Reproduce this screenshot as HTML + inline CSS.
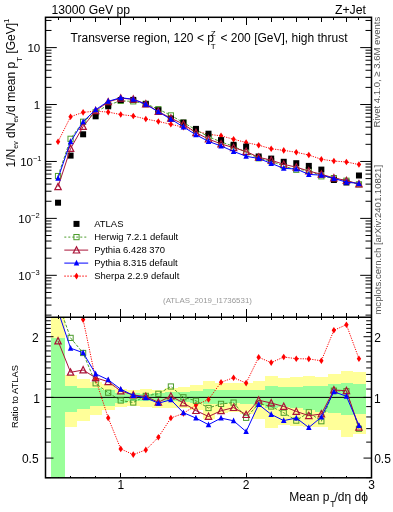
<!DOCTYPE html>
<html><head><meta charset="utf-8"><style>
html,body{margin:0;padding:0;background:#fff;width:393px;height:512px;overflow:hidden}
svg{display:block;will-change:transform}
text{font-family:"Liberation Sans",sans-serif;fill:#000}
</style></head><body>
<svg width="393" height="512" viewBox="0 0 393 512">
<defs><clipPath id="cm"><rect x="45.5" y="17.3" width="326" height="300"/></clipPath><clipPath id="cr"><rect x="45.5" y="317.3" width="326" height="160.1"/></clipPath></defs>
<g clip-path="url(#cr)" shape-rendering="crispEdges"><g fill="#ffff99"><rect x="50.90" y="250" width="13.81" height="350.00"/><rect x="64.71" y="375.2" width="12.54" height="51.90"/><rect x="77.25" y="378.8" width="12.54" height="42.50"/><rect x="89.78" y="381.5" width="12.54" height="33.30"/><rect x="102.32" y="384.2" width="12.54" height="25.60"/><rect x="114.86" y="389.4" width="12.54" height="17.20"/><rect x="127.40" y="390" width="12.54" height="16.00"/><rect x="139.94" y="389.2" width="12.54" height="17.30"/><rect x="152.48" y="389.7" width="12.54" height="17.80"/><rect x="165.02" y="388.1" width="12.54" height="19.40"/><rect x="177.55" y="387.1" width="12.54" height="20.90"/><rect x="190.09" y="385.3" width="12.54" height="24.20"/><rect x="202.63" y="380.8" width="12.54" height="37.90"/><rect x="215.17" y="383.1" width="12.54" height="30.20"/><rect x="227.71" y="383.1" width="12.54" height="28.70"/><rect x="240.25" y="383.1" width="12.54" height="30.90"/><rect x="252.78" y="381" width="12.54" height="37.80"/><rect x="265.32" y="375.8" width="12.54" height="51.80"/><rect x="277.86" y="377.5" width="12.54" height="47.50"/><rect x="290.40" y="376.6" width="12.54" height="49.40"/><rect x="302.94" y="375.5" width="12.54" height="51.20"/><rect x="315.48" y="376.5" width="12.54" height="50.50"/><rect x="328.02" y="373.5" width="12.54" height="56.80"/><rect x="340.55" y="370.9" width="12.54" height="65.60"/><rect x="353.09" y="372.2" width="12.54" height="61.80"/></g><g fill="#99ff99"><rect x="50.90" y="337.9" width="13.81" height="262.10"/><rect x="64.71" y="385.7" width="12.54" height="25.90"/><rect x="77.25" y="387.5" width="12.54" height="21.40"/><rect x="89.78" y="388.3" width="12.54" height="17.70"/><rect x="102.32" y="390.2" width="12.54" height="15.50"/><rect x="114.86" y="393.3" width="12.54" height="9.20"/><rect x="127.40" y="393.3" width="12.54" height="7.90"/><rect x="139.94" y="393.8" width="12.54" height="7.10"/><rect x="152.48" y="392.7" width="12.54" height="8.20"/><rect x="165.02" y="392.2" width="12.54" height="9.20"/><rect x="177.55" y="391.7" width="12.54" height="10.30"/><rect x="190.09" y="390.5" width="12.54" height="12.90"/><rect x="202.63" y="388.6" width="12.54" height="15.60"/><rect x="215.17" y="390.2" width="12.54" height="13.60"/><rect x="227.71" y="390.2" width="12.54" height="13.20"/><rect x="240.25" y="390.2" width="12.54" height="13.80"/><rect x="252.78" y="389.8" width="12.54" height="15.20"/><rect x="265.32" y="386.3" width="12.54" height="21.70"/><rect x="277.86" y="387.2" width="12.54" height="19.80"/><rect x="290.40" y="386.5" width="12.54" height="21.50"/><rect x="302.94" y="385.6" width="12.54" height="24.70"/><rect x="315.48" y="386" width="12.54" height="26.00"/><rect x="328.02" y="383.6" width="12.54" height="28.90"/><rect x="340.55" y="383" width="12.54" height="32.00"/><rect x="353.09" y="384" width="12.54" height="30.30"/></g></g>
<path d="M45.5,397.4H371.5" stroke="#000" stroke-width="1"/>
<g clip-path="url(#cm)"><path d="M58.04,141.70L70.58,116.70L83.12,112.33L95.65,111.16L108.19,112.09L120.73,114.54L133.27,116.05L145.81,119.03L158.35,121.47L170.88,124.32L183.42,127.12L195.96,131.07L208.50,134.29L221.04,135.84L233.58,139.24L246.12,142.56L258.65,145.18L271.19,148.77L283.73,150.39L296.27,152.27L308.81,155.03L321.35,159.26L333.88,161.05L346.42,161.97L358.96,164.57" fill="none" stroke="#ff0000" stroke-width="1" stroke-dasharray="1.2,1.2"/><path d="M58.04,138.40L60.24,141.70L58.04,145.00L55.84,141.70Z" fill="#ff0000"/><path d="M70.58,113.40L72.78,116.70L70.58,120.00L68.38,116.70Z" fill="#ff0000"/><path d="M83.12,109.03L85.32,112.33L83.12,115.63L80.92,112.33Z" fill="#ff0000"/><path d="M95.65,107.86L97.85,111.16L95.65,114.46L93.45,111.16Z" fill="#ff0000"/><path d="M108.19,108.79L110.39,112.09L108.19,115.39L105.99,112.09Z" fill="#ff0000"/><path d="M120.73,111.24L122.93,114.54L120.73,117.84L118.53,114.54Z" fill="#ff0000"/><path d="M133.27,112.75L135.47,116.05L133.27,119.35L131.07,116.05Z" fill="#ff0000"/><path d="M145.81,115.73L148.01,119.03L145.81,122.33L143.61,119.03Z" fill="#ff0000"/><path d="M158.35,118.17L160.55,121.47L158.35,124.77L156.15,121.47Z" fill="#ff0000"/><path d="M170.88,121.02L173.08,124.32L170.88,127.62L168.68,124.32Z" fill="#ff0000"/><path d="M183.42,123.82L185.62,127.12L183.42,130.42L181.22,127.12Z" fill="#ff0000"/><path d="M195.96,127.77L198.16,131.07L195.96,134.37L193.76,131.07Z" fill="#ff0000"/><path d="M208.50,130.99L210.70,134.29L208.50,137.59L206.30,134.29Z" fill="#ff0000"/><path d="M221.04,132.54L223.24,135.84L221.04,139.14L218.84,135.84Z" fill="#ff0000"/><path d="M233.58,135.94L235.78,139.24L233.58,142.54L231.38,139.24Z" fill="#ff0000"/><path d="M246.12,139.26L248.32,142.56L246.12,145.86L243.92,142.56Z" fill="#ff0000"/><path d="M258.65,141.88L260.85,145.18L258.65,148.48L256.45,145.18Z" fill="#ff0000"/><path d="M271.19,145.47L273.39,148.77L271.19,152.07L268.99,148.77Z" fill="#ff0000"/><path d="M283.73,147.09L285.93,150.39L283.73,153.69L281.53,150.39Z" fill="#ff0000"/><path d="M296.27,148.97L298.47,152.27L296.27,155.57L294.07,152.27Z" fill="#ff0000"/><path d="M308.81,151.73L311.01,155.03L308.81,158.33L306.61,155.03Z" fill="#ff0000"/><path d="M321.35,155.96L323.55,159.26L321.35,162.56L319.15,159.26Z" fill="#ff0000"/><path d="M333.88,157.75L336.08,161.05L333.88,164.35L331.68,161.05Z" fill="#ff0000"/><path d="M346.42,158.67L348.62,161.97L346.42,165.27L344.22,161.97Z" fill="#ff0000"/><path d="M358.96,161.27L361.16,164.57L358.96,167.87L356.76,164.57Z" fill="#ff0000"/></g>
<g clip-path="url(#cm)"><path d="M58.04,176.04L70.58,138.80L83.12,121.76L95.65,112.32L108.19,104.97L120.73,100.88L133.27,101.34L145.81,103.78L158.35,109.18L170.88,115.42L183.42,122.57L195.96,129.86L208.50,136.69L221.04,141.94L233.58,146.27L246.12,152.36L258.65,158.25L271.19,161.17L283.73,166.12L296.27,169.75L308.81,170.11L321.35,176.32L333.88,178.11L346.42,180.75L358.96,184.37" fill="none" stroke="#4c9c2c" stroke-width="1" stroke-dasharray="3,1.6"/><rect x="55.44" y="173.44" width="5.2" height="5.2" fill="none" stroke="#4c9c2c" stroke-width="1"/><rect x="67.98" y="136.20" width="5.2" height="5.2" fill="none" stroke="#4c9c2c" stroke-width="1"/><rect x="80.52" y="119.16" width="5.2" height="5.2" fill="none" stroke="#4c9c2c" stroke-width="1"/><rect x="93.05" y="109.72" width="5.2" height="5.2" fill="none" stroke="#4c9c2c" stroke-width="1"/><rect x="105.59" y="102.37" width="5.2" height="5.2" fill="none" stroke="#4c9c2c" stroke-width="1"/><rect x="118.13" y="98.28" width="5.2" height="5.2" fill="none" stroke="#4c9c2c" stroke-width="1"/><rect x="130.67" y="98.74" width="5.2" height="5.2" fill="none" stroke="#4c9c2c" stroke-width="1"/><rect x="143.21" y="101.18" width="5.2" height="5.2" fill="none" stroke="#4c9c2c" stroke-width="1"/><rect x="155.75" y="106.58" width="5.2" height="5.2" fill="none" stroke="#4c9c2c" stroke-width="1"/><rect x="168.28" y="112.82" width="5.2" height="5.2" fill="none" stroke="#4c9c2c" stroke-width="1"/><rect x="180.82" y="119.97" width="5.2" height="5.2" fill="none" stroke="#4c9c2c" stroke-width="1"/><rect x="193.36" y="127.26" width="5.2" height="5.2" fill="none" stroke="#4c9c2c" stroke-width="1"/><rect x="205.90" y="134.09" width="5.2" height="5.2" fill="none" stroke="#4c9c2c" stroke-width="1"/><rect x="218.44" y="139.34" width="5.2" height="5.2" fill="none" stroke="#4c9c2c" stroke-width="1"/><rect x="230.98" y="143.67" width="5.2" height="5.2" fill="none" stroke="#4c9c2c" stroke-width="1"/><rect x="243.52" y="149.76" width="5.2" height="5.2" fill="none" stroke="#4c9c2c" stroke-width="1"/><rect x="256.05" y="155.65" width="5.2" height="5.2" fill="none" stroke="#4c9c2c" stroke-width="1"/><rect x="268.59" y="158.57" width="5.2" height="5.2" fill="none" stroke="#4c9c2c" stroke-width="1"/><rect x="281.13" y="163.52" width="5.2" height="5.2" fill="none" stroke="#4c9c2c" stroke-width="1"/><rect x="293.67" y="167.15" width="5.2" height="5.2" fill="none" stroke="#4c9c2c" stroke-width="1"/><rect x="306.21" y="167.51" width="5.2" height="5.2" fill="none" stroke="#4c9c2c" stroke-width="1"/><rect x="318.75" y="173.72" width="5.2" height="5.2" fill="none" stroke="#4c9c2c" stroke-width="1"/><rect x="331.28" y="175.51" width="5.2" height="5.2" fill="none" stroke="#4c9c2c" stroke-width="1"/><rect x="343.82" y="178.15" width="5.2" height="5.2" fill="none" stroke="#4c9c2c" stroke-width="1"/><rect x="356.36" y="181.77" width="5.2" height="5.2" fill="none" stroke="#4c9c2c" stroke-width="1"/></g>
<g clip-path="url(#cm)"><rect x="55.04" y="199.70" width="6" height="6" fill="#000"/><rect x="67.58" y="152.60" width="6" height="6" fill="#000"/><rect x="80.12" y="131.30" width="6" height="6" fill="#000"/><rect x="92.65" y="113.30" width="6" height="6" fill="#000"/><rect x="105.19" y="103.30" width="6" height="6" fill="#000"/><rect x="117.73" y="97.00" width="6" height="6" fill="#000"/><rect x="130.27" y="96.90" width="6" height="6" fill="#000"/><rect x="142.81" y="101.20" width="6" height="6" fill="#000"/><rect x="155.35" y="107.20" width="6" height="6" fill="#000"/><rect x="167.88" y="115.50" width="6" height="6" fill="#000"/><rect x="180.42" y="119.60" width="6" height="6" fill="#000"/><rect x="192.96" y="125.90" width="6" height="6" fill="#000"/><rect x="205.50" y="130.70" width="6" height="6" fill="#000"/><rect x="218.04" y="137.10" width="6" height="6" fill="#000"/><rect x="230.58" y="141.80" width="6" height="6" fill="#000"/><rect x="243.12" y="143.60" width="6" height="6" fill="#000"/><rect x="255.65" y="153.50" width="6" height="6" fill="#000"/><rect x="268.19" y="155.60" width="6" height="6" fill="#000"/><rect x="280.73" y="158.80" width="6" height="6" fill="#000"/><rect x="293.27" y="160.20" width="6" height="6" fill="#000"/><rect x="305.81" y="162.90" width="6" height="6" fill="#000"/><rect x="318.35" y="166.60" width="6" height="6" fill="#000"/><rect x="330.88" y="177.00" width="6" height="6" fill="#000"/><rect x="343.42" y="179.50" width="6" height="6" fill="#000"/><rect x="355.96" y="172.50" width="6" height="6" fill="#000"/></g>
<g clip-path="url(#cm)"><path d="M58.04,186.77L70.58,148.51L83.12,126.56L95.65,110.77L108.19,101.87L120.73,98.19L133.27,99.22L145.81,103.95L158.35,111.58L170.88,118.13L183.42,124.15L195.96,132.63L208.50,139.09L221.04,143.88L233.58,147.68L246.12,151.46L258.65,157.29L271.19,160.18L283.73,164.37L296.27,167.15L308.81,171.07L321.35,174.29L333.88,177.91L346.42,180.61L358.96,183.94" fill="none" stroke="#aa1438" stroke-width="1"/><path d="M58.04,183.37L61.24,189.67H54.84Z" fill="none" stroke="#aa1438" stroke-width="1.2" stroke-linejoin="miter"/><path d="M70.58,145.11L73.78,151.41H67.38Z" fill="none" stroke="#aa1438" stroke-width="1.2" stroke-linejoin="miter"/><path d="M83.12,123.16L86.32,129.46H79.92Z" fill="none" stroke="#aa1438" stroke-width="1.2" stroke-linejoin="miter"/><path d="M95.65,107.37L98.85,113.67H92.45Z" fill="none" stroke="#aa1438" stroke-width="1.2" stroke-linejoin="miter"/><path d="M108.19,98.47L111.39,104.77H104.99Z" fill="none" stroke="#aa1438" stroke-width="1.2" stroke-linejoin="miter"/><path d="M120.73,94.79L123.93,101.09H117.53Z" fill="none" stroke="#aa1438" stroke-width="1.2" stroke-linejoin="miter"/><path d="M133.27,95.82L136.47,102.12H130.07Z" fill="none" stroke="#aa1438" stroke-width="1.2" stroke-linejoin="miter"/><path d="M145.81,100.55L149.01,106.85H142.61Z" fill="none" stroke="#aa1438" stroke-width="1.2" stroke-linejoin="miter"/><path d="M158.35,108.18L161.55,114.48H155.15Z" fill="none" stroke="#aa1438" stroke-width="1.2" stroke-linejoin="miter"/><path d="M170.88,114.73L174.08,121.03H167.68Z" fill="none" stroke="#aa1438" stroke-width="1.2" stroke-linejoin="miter"/><path d="M183.42,120.75L186.62,127.05H180.22Z" fill="none" stroke="#aa1438" stroke-width="1.2" stroke-linejoin="miter"/><path d="M195.96,129.23L199.16,135.53H192.76Z" fill="none" stroke="#aa1438" stroke-width="1.2" stroke-linejoin="miter"/><path d="M208.50,135.69L211.70,141.99H205.30Z" fill="none" stroke="#aa1438" stroke-width="1.2" stroke-linejoin="miter"/><path d="M221.04,140.48L224.24,146.78H217.84Z" fill="none" stroke="#aa1438" stroke-width="1.2" stroke-linejoin="miter"/><path d="M233.58,144.28L236.78,150.58H230.38Z" fill="none" stroke="#aa1438" stroke-width="1.2" stroke-linejoin="miter"/><path d="M246.12,148.06L249.32,154.36H242.92Z" fill="none" stroke="#aa1438" stroke-width="1.2" stroke-linejoin="miter"/><path d="M258.65,153.89L261.85,160.19H255.45Z" fill="none" stroke="#aa1438" stroke-width="1.2" stroke-linejoin="miter"/><path d="M271.19,156.78L274.39,163.08H267.99Z" fill="none" stroke="#aa1438" stroke-width="1.2" stroke-linejoin="miter"/><path d="M283.73,160.97L286.93,167.27H280.53Z" fill="none" stroke="#aa1438" stroke-width="1.2" stroke-linejoin="miter"/><path d="M296.27,163.75L299.47,170.05H293.07Z" fill="none" stroke="#aa1438" stroke-width="1.2" stroke-linejoin="miter"/><path d="M308.81,167.67L312.01,173.97H305.61Z" fill="none" stroke="#aa1438" stroke-width="1.2" stroke-linejoin="miter"/><path d="M321.35,170.89L324.55,177.19H318.15Z" fill="none" stroke="#aa1438" stroke-width="1.2" stroke-linejoin="miter"/><path d="M333.88,174.51L337.08,180.81H330.68Z" fill="none" stroke="#aa1438" stroke-width="1.2" stroke-linejoin="miter"/><path d="M346.42,177.21L349.62,183.51H343.22Z" fill="none" stroke="#aa1438" stroke-width="1.2" stroke-linejoin="miter"/><path d="M358.96,180.54L362.16,186.84H355.76Z" fill="none" stroke="#aa1438" stroke-width="1.2" stroke-linejoin="miter"/></g>
<g clip-path="url(#cm)"><path d="M58.04,178.30L70.58,141.71L83.12,121.68L95.65,109.66L108.19,101.33L120.73,97.68L133.27,99.34L145.81,104.31L158.35,111.84L170.88,119.18L183.42,126.92L195.96,134.75L208.50,141.41L221.04,145.95L233.58,151.41L246.12,156.26L258.65,158.50L271.19,163.40L283.73,168.35L296.27,169.02L308.81,174.40L321.35,175.16L333.88,178.39L346.42,182.19L358.96,183.44" fill="none" stroke="#0000ff" stroke-width="1"/><path d="M58.04,175.00L60.79,180.80H55.29Z" fill="#0000ff"/><path d="M70.58,138.41L73.33,144.21H67.83Z" fill="#0000ff"/><path d="M83.12,118.38L85.87,124.18H80.37Z" fill="#0000ff"/><path d="M95.65,106.36L98.40,112.16H92.90Z" fill="#0000ff"/><path d="M108.19,98.03L110.94,103.83H105.44Z" fill="#0000ff"/><path d="M120.73,94.38L123.48,100.18H117.98Z" fill="#0000ff"/><path d="M133.27,96.04L136.02,101.84H130.52Z" fill="#0000ff"/><path d="M145.81,101.01L148.56,106.81H143.06Z" fill="#0000ff"/><path d="M158.35,108.54L161.10,114.34H155.60Z" fill="#0000ff"/><path d="M170.88,115.88L173.63,121.68H168.13Z" fill="#0000ff"/><path d="M183.42,123.62L186.17,129.42H180.67Z" fill="#0000ff"/><path d="M195.96,131.45L198.71,137.25H193.21Z" fill="#0000ff"/><path d="M208.50,138.11L211.25,143.91H205.75Z" fill="#0000ff"/><path d="M221.04,142.65L223.79,148.45H218.29Z" fill="#0000ff"/><path d="M233.58,148.11L236.33,153.91H230.83Z" fill="#0000ff"/><path d="M246.12,152.96L248.87,158.76H243.37Z" fill="#0000ff"/><path d="M258.65,155.20L261.40,161.00H255.90Z" fill="#0000ff"/><path d="M271.19,160.10L273.94,165.90H268.44Z" fill="#0000ff"/><path d="M283.73,165.05L286.48,170.85H280.98Z" fill="#0000ff"/><path d="M296.27,165.72L299.02,171.52H293.52Z" fill="#0000ff"/><path d="M308.81,171.10L311.56,176.90H306.06Z" fill="#0000ff"/><path d="M321.35,171.86L324.10,177.66H318.60Z" fill="#0000ff"/><path d="M333.88,175.09L336.63,180.89H331.13Z" fill="#0000ff"/><path d="M346.42,178.89L349.17,184.69H343.67Z" fill="#0000ff"/><path d="M358.96,180.14L361.71,185.94H356.21Z" fill="#0000ff"/></g>
<g clip-path="url(#cr)"><path d="M58.04,181.65L70.58,259.82L83.12,319.60L95.65,379.20L108.19,417.90L120.73,448.90L133.27,454.60L145.81,449.90L158.35,437.30L170.88,418.00L183.42,413.40L195.96,405.10L208.50,399.50L221.04,382.30L233.58,377.70L246.12,383.10L258.65,357.30L271.19,362.60L283.73,357.00L296.27,358.70L308.81,358.90L321.35,360.80L333.88,330.30L346.42,324.70L358.96,358.70" fill="none" stroke="#ff0000" stroke-width="1" stroke-dasharray="1.2,1.2"/><path d="M58.04,178.35L60.24,181.65L58.04,184.95L55.84,181.65Z" fill="#ff0000"/><path d="M70.58,256.52L72.78,259.82L70.58,263.12L68.38,259.82Z" fill="#ff0000"/><path d="M83.12,316.30L85.32,319.60L83.12,322.90L80.92,319.60Z" fill="#ff0000"/><path d="M95.65,375.90L97.85,379.20L95.65,382.50L93.45,379.20Z" fill="#ff0000"/><path d="M108.19,414.60L110.39,417.90L108.19,421.20L105.99,417.90Z" fill="#ff0000"/><path d="M120.73,445.60L122.93,448.90L120.73,452.20L118.53,448.90Z" fill="#ff0000"/><path d="M133.27,451.30L135.47,454.60L133.27,457.90L131.07,454.60Z" fill="#ff0000"/><path d="M145.81,446.60L148.01,449.90L145.81,453.20L143.61,449.90Z" fill="#ff0000"/><path d="M158.35,434.00L160.55,437.30L158.35,440.60L156.15,437.30Z" fill="#ff0000"/><path d="M170.88,414.70L173.08,418.00L170.88,421.30L168.68,418.00Z" fill="#ff0000"/><path d="M183.42,410.10L185.62,413.40L183.42,416.70L181.22,413.40Z" fill="#ff0000"/><path d="M195.96,401.80L198.16,405.10L195.96,408.40L193.76,405.10Z" fill="#ff0000"/><path d="M208.50,396.20L210.70,399.50L208.50,402.80L206.30,399.50Z" fill="#ff0000"/><path d="M221.04,379.00L223.24,382.30L221.04,385.60L218.84,382.30Z" fill="#ff0000"/><path d="M233.58,374.40L235.78,377.70L233.58,381.00L231.38,377.70Z" fill="#ff0000"/><path d="M246.12,379.80L248.32,383.10L246.12,386.40L243.92,383.10Z" fill="#ff0000"/><path d="M258.65,354.00L260.85,357.30L258.65,360.60L256.45,357.30Z" fill="#ff0000"/><path d="M271.19,359.30L273.39,362.60L271.19,365.90L268.99,362.60Z" fill="#ff0000"/><path d="M283.73,353.70L285.93,357.00L283.73,360.30L281.53,357.00Z" fill="#ff0000"/><path d="M296.27,355.40L298.47,358.70L296.27,362.00L294.07,358.70Z" fill="#ff0000"/><path d="M308.81,355.60L311.01,358.90L308.81,362.20L306.61,358.90Z" fill="#ff0000"/><path d="M321.35,357.50L323.55,360.80L321.35,364.10L319.15,360.80Z" fill="#ff0000"/><path d="M333.88,327.00L336.08,330.30L333.88,333.60L331.68,330.30Z" fill="#ff0000"/><path d="M346.42,321.40L348.62,324.70L346.42,328.00L344.22,324.70Z" fill="#ff0000"/><path d="M358.96,355.40L361.16,358.70L358.96,362.00L356.76,358.70Z" fill="#ff0000"/></g>
<g clip-path="url(#cr)"><path d="M58.04,303.00L70.58,337.90L83.12,353.00L95.65,383.30L108.19,392.70L120.73,400.50L133.27,402.50L145.81,395.90L158.35,393.80L170.88,386.50L183.42,397.30L195.96,400.80L208.50,408.00L221.04,403.90L233.58,402.60L246.12,417.80L258.65,403.60L271.19,406.50L283.73,412.70L296.27,420.60L308.81,412.30L321.35,421.20L333.88,390.70L346.42,391.20L358.96,428.80" fill="none" stroke="#4c9c2c" stroke-width="1" stroke-dasharray="3,1.6"/><rect x="55.44" y="300.40" width="5.2" height="5.2" fill="none" stroke="#4c9c2c" stroke-width="1"/><rect x="67.98" y="335.30" width="5.2" height="5.2" fill="none" stroke="#4c9c2c" stroke-width="1"/><rect x="80.52" y="350.40" width="5.2" height="5.2" fill="none" stroke="#4c9c2c" stroke-width="1"/><rect x="93.05" y="380.70" width="5.2" height="5.2" fill="none" stroke="#4c9c2c" stroke-width="1"/><rect x="105.59" y="390.10" width="5.2" height="5.2" fill="none" stroke="#4c9c2c" stroke-width="1"/><rect x="118.13" y="397.90" width="5.2" height="5.2" fill="none" stroke="#4c9c2c" stroke-width="1"/><rect x="130.67" y="399.90" width="5.2" height="5.2" fill="none" stroke="#4c9c2c" stroke-width="1"/><rect x="143.21" y="393.30" width="5.2" height="5.2" fill="none" stroke="#4c9c2c" stroke-width="1"/><rect x="155.75" y="391.20" width="5.2" height="5.2" fill="none" stroke="#4c9c2c" stroke-width="1"/><rect x="168.28" y="383.90" width="5.2" height="5.2" fill="none" stroke="#4c9c2c" stroke-width="1"/><rect x="180.82" y="394.70" width="5.2" height="5.2" fill="none" stroke="#4c9c2c" stroke-width="1"/><rect x="193.36" y="398.20" width="5.2" height="5.2" fill="none" stroke="#4c9c2c" stroke-width="1"/><rect x="205.90" y="405.40" width="5.2" height="5.2" fill="none" stroke="#4c9c2c" stroke-width="1"/><rect x="218.44" y="401.30" width="5.2" height="5.2" fill="none" stroke="#4c9c2c" stroke-width="1"/><rect x="230.98" y="400.00" width="5.2" height="5.2" fill="none" stroke="#4c9c2c" stroke-width="1"/><rect x="243.52" y="415.20" width="5.2" height="5.2" fill="none" stroke="#4c9c2c" stroke-width="1"/><rect x="256.05" y="401.00" width="5.2" height="5.2" fill="none" stroke="#4c9c2c" stroke-width="1"/><rect x="268.59" y="403.90" width="5.2" height="5.2" fill="none" stroke="#4c9c2c" stroke-width="1"/><rect x="281.13" y="410.10" width="5.2" height="5.2" fill="none" stroke="#4c9c2c" stroke-width="1"/><rect x="293.67" y="418.00" width="5.2" height="5.2" fill="none" stroke="#4c9c2c" stroke-width="1"/><rect x="306.21" y="409.70" width="5.2" height="5.2" fill="none" stroke="#4c9c2c" stroke-width="1"/><rect x="318.75" y="418.60" width="5.2" height="5.2" fill="none" stroke="#4c9c2c" stroke-width="1"/><rect x="331.28" y="388.10" width="5.2" height="5.2" fill="none" stroke="#4c9c2c" stroke-width="1"/><rect x="343.82" y="388.60" width="5.2" height="5.2" fill="none" stroke="#4c9c2c" stroke-width="1"/><rect x="356.36" y="426.20" width="5.2" height="5.2" fill="none" stroke="#4c9c2c" stroke-width="1"/></g>
<g clip-path="url(#cr)"><path d="M58.04,341.00L70.58,372.30L83.12,370.00L95.65,377.80L108.19,381.70L120.73,391.00L133.27,395.00L145.81,396.50L158.35,402.30L170.88,396.10L183.42,402.90L195.96,410.60L208.50,416.50L221.04,410.80L233.58,407.60L246.12,414.60L258.65,400.20L271.19,403.00L283.73,406.50L296.27,411.40L308.81,415.70L321.35,414.00L333.88,390.00L346.42,390.70L358.96,427.30" fill="none" stroke="#aa1438" stroke-width="1"/><path d="M58.04,337.60L61.24,343.90H54.84Z" fill="none" stroke="#aa1438" stroke-width="1.2" stroke-linejoin="miter"/><path d="M70.58,368.90L73.78,375.20H67.38Z" fill="none" stroke="#aa1438" stroke-width="1.2" stroke-linejoin="miter"/><path d="M83.12,366.60L86.32,372.90H79.92Z" fill="none" stroke="#aa1438" stroke-width="1.2" stroke-linejoin="miter"/><path d="M95.65,374.40L98.85,380.70H92.45Z" fill="none" stroke="#aa1438" stroke-width="1.2" stroke-linejoin="miter"/><path d="M108.19,378.30L111.39,384.60H104.99Z" fill="none" stroke="#aa1438" stroke-width="1.2" stroke-linejoin="miter"/><path d="M120.73,387.60L123.93,393.90H117.53Z" fill="none" stroke="#aa1438" stroke-width="1.2" stroke-linejoin="miter"/><path d="M133.27,391.60L136.47,397.90H130.07Z" fill="none" stroke="#aa1438" stroke-width="1.2" stroke-linejoin="miter"/><path d="M145.81,393.10L149.01,399.40H142.61Z" fill="none" stroke="#aa1438" stroke-width="1.2" stroke-linejoin="miter"/><path d="M158.35,398.90L161.55,405.20H155.15Z" fill="none" stroke="#aa1438" stroke-width="1.2" stroke-linejoin="miter"/><path d="M170.88,392.70L174.08,399.00H167.68Z" fill="none" stroke="#aa1438" stroke-width="1.2" stroke-linejoin="miter"/><path d="M183.42,399.50L186.62,405.80H180.22Z" fill="none" stroke="#aa1438" stroke-width="1.2" stroke-linejoin="miter"/><path d="M195.96,407.20L199.16,413.50H192.76Z" fill="none" stroke="#aa1438" stroke-width="1.2" stroke-linejoin="miter"/><path d="M208.50,413.10L211.70,419.40H205.30Z" fill="none" stroke="#aa1438" stroke-width="1.2" stroke-linejoin="miter"/><path d="M221.04,407.40L224.24,413.70H217.84Z" fill="none" stroke="#aa1438" stroke-width="1.2" stroke-linejoin="miter"/><path d="M233.58,404.20L236.78,410.50H230.38Z" fill="none" stroke="#aa1438" stroke-width="1.2" stroke-linejoin="miter"/><path d="M246.12,411.20L249.32,417.50H242.92Z" fill="none" stroke="#aa1438" stroke-width="1.2" stroke-linejoin="miter"/><path d="M258.65,396.80L261.85,403.10H255.45Z" fill="none" stroke="#aa1438" stroke-width="1.2" stroke-linejoin="miter"/><path d="M271.19,399.60L274.39,405.90H267.99Z" fill="none" stroke="#aa1438" stroke-width="1.2" stroke-linejoin="miter"/><path d="M283.73,403.10L286.93,409.40H280.53Z" fill="none" stroke="#aa1438" stroke-width="1.2" stroke-linejoin="miter"/><path d="M296.27,408.00L299.47,414.30H293.07Z" fill="none" stroke="#aa1438" stroke-width="1.2" stroke-linejoin="miter"/><path d="M308.81,412.30L312.01,418.60H305.61Z" fill="none" stroke="#aa1438" stroke-width="1.2" stroke-linejoin="miter"/><path d="M321.35,410.60L324.55,416.90H318.15Z" fill="none" stroke="#aa1438" stroke-width="1.2" stroke-linejoin="miter"/><path d="M333.88,386.60L337.08,392.90H330.68Z" fill="none" stroke="#aa1438" stroke-width="1.2" stroke-linejoin="miter"/><path d="M346.42,387.30L349.62,393.60H343.22Z" fill="none" stroke="#aa1438" stroke-width="1.2" stroke-linejoin="miter"/><path d="M358.96,423.90L362.16,430.20H355.76Z" fill="none" stroke="#aa1438" stroke-width="1.2" stroke-linejoin="miter"/></g>
<g clip-path="url(#cr)"><path d="M58.04,311.00L70.58,348.20L83.12,352.70L95.65,373.90L108.19,379.80L120.73,389.20L133.27,395.40L145.81,397.80L158.35,403.20L170.88,399.80L183.42,412.70L195.96,418.10L208.50,424.70L221.04,418.10L233.58,420.80L246.12,431.60L258.65,404.50L271.19,414.40L283.73,420.60L296.27,418.00L308.81,427.50L321.35,417.10L333.88,391.70L346.42,396.30L358.96,425.50" fill="none" stroke="#0000ff" stroke-width="1"/><path d="M58.04,307.70L60.79,313.50H55.29Z" fill="#0000ff"/><path d="M70.58,344.90L73.33,350.70H67.83Z" fill="#0000ff"/><path d="M83.12,349.40L85.87,355.20H80.37Z" fill="#0000ff"/><path d="M95.65,370.60L98.40,376.40H92.90Z" fill="#0000ff"/><path d="M108.19,376.50L110.94,382.30H105.44Z" fill="#0000ff"/><path d="M120.73,385.90L123.48,391.70H117.98Z" fill="#0000ff"/><path d="M133.27,392.10L136.02,397.90H130.52Z" fill="#0000ff"/><path d="M145.81,394.50L148.56,400.30H143.06Z" fill="#0000ff"/><path d="M158.35,399.90L161.10,405.70H155.60Z" fill="#0000ff"/><path d="M170.88,396.50L173.63,402.30H168.13Z" fill="#0000ff"/><path d="M183.42,409.40L186.17,415.20H180.67Z" fill="#0000ff"/><path d="M195.96,414.80L198.71,420.60H193.21Z" fill="#0000ff"/><path d="M208.50,421.40L211.25,427.20H205.75Z" fill="#0000ff"/><path d="M221.04,414.80L223.79,420.60H218.29Z" fill="#0000ff"/><path d="M233.58,417.50L236.33,423.30H230.83Z" fill="#0000ff"/><path d="M246.12,428.30L248.87,434.10H243.37Z" fill="#0000ff"/><path d="M258.65,401.20L261.40,407.00H255.90Z" fill="#0000ff"/><path d="M271.19,411.10L273.94,416.90H268.44Z" fill="#0000ff"/><path d="M283.73,417.30L286.48,423.10H280.98Z" fill="#0000ff"/><path d="M296.27,414.70L299.02,420.50H293.52Z" fill="#0000ff"/><path d="M308.81,424.20L311.56,430.00H306.06Z" fill="#0000ff"/><path d="M321.35,413.80L324.10,419.60H318.60Z" fill="#0000ff"/><path d="M333.88,388.40L336.63,394.20H331.13Z" fill="#0000ff"/><path d="M346.42,393.00L349.17,398.80H343.67Z" fill="#0000ff"/><path d="M358.96,422.20L361.71,428.00H356.21Z" fill="#0000ff"/></g>
<rect x="73.5" y="220.9" width="6" height="6" fill="#000"/>
<path d="M64.3,237.1H88.2" stroke="#4c9c2c" stroke-dasharray="2,2"/><rect x="73.90" y="234.50" width="5.2" height="5.2" fill="none" stroke="#4c9c2c" stroke-width="1"/>
<path d="M64.3,250.1H88.2" stroke="#aa1438"/><path d="M76.50,246.70L79.70,253.00H73.30Z" fill="none" stroke="#aa1438" stroke-width="1.2" stroke-linejoin="miter"/>
<path d="M64.3,263.1H88.2" stroke="#0000ff"/><path d="M76.50,259.80L79.25,265.60H73.75Z" fill="#0000ff"/>
<path d="M64.3,276.1H88.2" stroke="#ff0000" stroke-dasharray="1.5,1.5"/><path d="M76.50,272.80L78.70,276.10L76.50,279.40L74.30,276.10Z" fill="#ff0000"/>
<path d="M58.04,17.3v2.2M58.04,317.3v-2.2M58.04,317.3v1.3M58.04,477.8v-1.3M70.58,17.3v4.2M70.58,317.3v-4.2M70.58,317.3v2.3M70.58,477.8v-2.3M83.12,17.3v2.2M83.12,317.3v-2.2M83.12,317.3v1.3M83.12,477.8v-1.3M95.65,17.3v4.2M95.65,317.3v-4.2M95.65,317.3v2.3M95.65,477.8v-2.3M108.19,17.3v2.2M108.19,317.3v-2.2M108.19,317.3v1.3M108.19,477.8v-1.3M120.73,17.3v8.0M120.73,317.3v-8.0M120.73,317.3v4.8M120.73,477.8v-4.8M133.27,17.3v2.2M133.27,317.3v-2.2M133.27,317.3v1.3M133.27,477.8v-1.3M145.81,17.3v4.2M145.81,317.3v-4.2M145.81,317.3v2.3M145.81,477.8v-2.3M158.35,17.3v2.2M158.35,317.3v-2.2M158.35,317.3v1.3M158.35,477.8v-1.3M170.88,17.3v4.2M170.88,317.3v-4.2M170.88,317.3v2.3M170.88,477.8v-2.3M183.42,17.3v2.2M183.42,317.3v-2.2M183.42,317.3v1.3M183.42,477.8v-1.3M195.96,17.3v4.2M195.96,317.3v-4.2M195.96,317.3v2.3M195.96,477.8v-2.3M208.50,17.3v2.2M208.50,317.3v-2.2M208.50,317.3v1.3M208.50,477.8v-1.3M221.04,17.3v4.2M221.04,317.3v-4.2M221.04,317.3v2.3M221.04,477.8v-2.3M233.58,17.3v2.2M233.58,317.3v-2.2M233.58,317.3v1.3M233.58,477.8v-1.3M246.12,17.3v8.0M246.12,317.3v-8.0M246.12,317.3v4.8M246.12,477.8v-4.8M258.65,17.3v2.2M258.65,317.3v-2.2M258.65,317.3v1.3M258.65,477.8v-1.3M271.19,17.3v4.2M271.19,317.3v-4.2M271.19,317.3v2.3M271.19,477.8v-2.3M283.73,17.3v2.2M283.73,317.3v-2.2M283.73,317.3v1.3M283.73,477.8v-1.3M296.27,17.3v4.2M296.27,317.3v-4.2M296.27,317.3v2.3M296.27,477.8v-2.3M308.81,17.3v2.2M308.81,317.3v-2.2M308.81,317.3v1.3M308.81,477.8v-1.3M321.35,17.3v4.2M321.35,317.3v-4.2M321.35,317.3v2.3M321.35,477.8v-2.3M333.88,17.3v2.2M333.88,317.3v-2.2M333.88,317.3v1.3M333.88,477.8v-1.3M346.42,17.3v4.2M346.42,317.3v-4.2M346.42,317.3v2.3M346.42,477.8v-2.3M358.96,17.3v2.2M358.96,317.3v-2.2M358.96,317.3v1.3M358.96,477.8v-1.3" stroke="#000" stroke-width="1" fill="none" shape-rendering="crispEdges"/>
<path d="M45.5,315.11h6.0M371.5,315.11h-6.0M45.5,305.09h6.0M371.5,305.09h-6.0M45.5,297.97h6.0M371.5,297.97h-6.0M45.5,292.46h6.0M371.5,292.46h-6.0M45.5,287.95h6.0M371.5,287.95h-6.0M45.5,284.14h6.0M371.5,284.14h-6.0M45.5,280.84h6.0M371.5,280.84h-6.0M45.5,277.92h6.0M371.5,277.92h-6.0M45.5,275.32h11.3M371.5,275.32h-11.3M45.5,258.18h6.0M371.5,258.18h-6.0M45.5,248.16h6.0M371.5,248.16h-6.0M45.5,241.04h6.0M371.5,241.04h-6.0M45.5,235.53h6.0M371.5,235.53h-6.0M45.5,231.02h6.0M371.5,231.02h-6.0M45.5,227.21h6.0M371.5,227.21h-6.0M45.5,223.91h6.0M371.5,223.91h-6.0M45.5,220.99h6.0M371.5,220.99h-6.0M45.5,218.39h11.3M371.5,218.39h-11.3M45.5,201.25h6.0M371.5,201.25h-6.0M45.5,191.23h6.0M371.5,191.23h-6.0M45.5,184.11h6.0M371.5,184.11h-6.0M45.5,178.60h6.0M371.5,178.60h-6.0M45.5,174.09h6.0M371.5,174.09h-6.0M45.5,170.28h6.0M371.5,170.28h-6.0M45.5,166.98h6.0M371.5,166.98h-6.0M45.5,164.06h6.0M371.5,164.06h-6.0M45.5,161.46h11.3M371.5,161.46h-11.3M45.5,144.32h6.0M371.5,144.32h-6.0M45.5,134.30h6.0M371.5,134.30h-6.0M45.5,127.18h6.0M371.5,127.18h-6.0M45.5,121.67h6.0M371.5,121.67h-6.0M45.5,117.16h6.0M371.5,117.16h-6.0M45.5,113.35h6.0M371.5,113.35h-6.0M45.5,110.05h6.0M371.5,110.05h-6.0M45.5,107.13h6.0M371.5,107.13h-6.0M45.5,104.53h11.3M371.5,104.53h-11.3M45.5,87.39h6.0M371.5,87.39h-6.0M45.5,77.37h6.0M371.5,77.37h-6.0M45.5,70.25h6.0M371.5,70.25h-6.0M45.5,64.74h6.0M371.5,64.74h-6.0M45.5,60.23h6.0M371.5,60.23h-6.0M45.5,56.42h6.0M371.5,56.42h-6.0M45.5,53.12h6.0M371.5,53.12h-6.0M45.5,50.20h6.0M371.5,50.20h-6.0M45.5,47.60h11.3M371.5,47.60h-11.3M45.5,30.46h6.0M371.5,30.46h-6.0M45.5,20.44h6.0M371.5,20.44h-6.0M45.5,477.62h5.3M371.5,477.62h-5.3M45.5,458.09h8M371.5,458.09h-8M45.5,442.12h5.3M371.5,442.12h-5.3M45.5,428.63h5.3M371.5,428.63h-5.3M45.5,416.94h5.3M371.5,416.94h-5.3M45.5,406.62h5.3M371.5,406.62h-5.3M45.5,397.40h8M371.5,397.40h-8M45.5,389.06h5.3M371.5,389.06h-5.3M45.5,381.44h5.3M371.5,381.44h-5.3M45.5,374.43h5.3M371.5,374.43h-5.3M45.5,367.94h5.3M371.5,367.94h-5.3M45.5,361.90h5.3M371.5,361.90h-5.3M45.5,356.25h5.3M371.5,356.25h-5.3M45.5,350.94h5.3M371.5,350.94h-5.3M45.5,345.94h5.3M371.5,345.94h-5.3M45.5,341.20h5.3M371.5,341.20h-5.3M45.5,336.71h8M371.5,336.71h-8M45.5,332.44h5.3M371.5,332.44h-5.3M45.5,328.37h5.3M371.5,328.37h-5.3M45.5,324.48h5.3M371.5,324.48h-5.3M45.5,320.75h5.3M371.5,320.75h-5.3" stroke="#000" stroke-width="1" fill="none"/>
<rect x="45.5" y="17.3" width="326.0" height="460.5" fill="none" stroke="#000" stroke-width="1.5"/>
<path d="M45.5,317.3H371.5" stroke="#000" stroke-width="1.5"/>
<text x="51.4" y="14.2" font-size="12.2">13000 GeV pp</text>
<text x="366" y="14.2" font-size="12.3" text-anchor="end">Z+Jet</text>
<text x="70.6" y="41.7" font-size="12">Transverse region, 120 &lt; p<tspan font-size="8" dx="-3.2" dy="-6.1">Z</tspan><tspan font-size="8" dx="-4.9" dy="13.3">T</tspan><tspan dx="1.5" dy="-7.2"> &lt; 200 [GeV], high thrust</tspan></text>
<text x="40.3" y="52.30" font-size="11.6" text-anchor="end">10</text>
<text x="40.1" y="108.93" font-size="11.6" text-anchor="end">1</text>
<text x="41.5" y="166.36" font-size="11.5" text-anchor="end">10<tspan font-size="7.5" dy="-4.9">&#8722;1</tspan></text>
<text x="39.6" y="223.29" font-size="11.5" text-anchor="end">10<tspan font-size="7.5" dy="-4.9">&#8722;2</tspan></text>
<text x="39.6" y="280.22" font-size="11.5" text-anchor="end">10<tspan font-size="7.5" dy="-4.9">&#8722;3</tspan></text>
<text x="38.6" y="341.7" font-size="12" text-anchor="end">2</text>
<text x="40.0" y="402.5" font-size="12" text-anchor="end">1</text>
<text x="38.6" y="463" font-size="12" text-anchor="end">0.5</text>
<text x="374.2" y="341.7" font-size="12" text-anchor="start">2</text>
<text x="373.9" y="402.5" font-size="12" text-anchor="start">1</text>
<text x="374.2" y="463" font-size="12" text-anchor="start">0.5</text>
<text x="120.73" y="489.4" font-size="12" text-anchor="middle">1</text>
<text x="246.12" y="489.4" font-size="12" text-anchor="middle">2</text>
<text x="371.50" y="489.4" font-size="12" text-anchor="middle">3</text>
<text x="289.3" y="501.3" font-size="12">Mean p<tspan font-size="8.5" dx="0.8" dy="6">T</tspan><tspan dx="-0.8" dy="-6">/d&#951; d&#981;</tspan></text>
<text transform="translate(94.2,227.1) scale(0.98,1)" font-size="9.65">ATLAS</text>
<text transform="translate(94.2,240.1) scale(0.98,1)" font-size="9.65">Herwig 7.2.1 default</text>
<text transform="translate(94.2,253.1) scale(0.98,1)" font-size="9.65">Pythia 6.428 370</text>
<text transform="translate(94.2,266.1) scale(0.98,1)" font-size="9.65">Pythia 8.315 default</text>
<text transform="translate(94.2,279.1) scale(0.98,1)" font-size="9.65">Sherpa 2.2.9 default</text>
<text x="163" y="303.4" font-size="7.9" fill="#999" style="fill:#999">(ATLAS_2019_I1736531)</text>
<text transform="translate(15.3,167.4) rotate(-90)" font-size="12">1/N<tspan font-size="7" dy="2.5">ev</tspan><tspan dy="-2.5"> dN</tspan><tspan font-size="7" dy="2.5">ev</tspan><tspan dy="-2.5">/d mean p</tspan><tspan font-size="8" dy="6.6">T</tspan><tspan dy="-6.6"> [GeV]</tspan><tspan font-size="8" dy="-6.7">1</tspan></text>
<text transform="translate(18,396.6) rotate(-90)" font-size="9.3" text-anchor="middle">Ratio to ATLAS</text>
<text transform="translate(379.8,127.6) rotate(-90)" font-size="9.55" style="fill:#555">Rivet 4.1.0, &#8805; 3.6M events</text>
<text transform="translate(381,314.6) rotate(-90)" font-size="9.55" style="fill:#555">mcplots.cern.ch [arXiv:2401.10821]</text>
</svg>
</body></html>
